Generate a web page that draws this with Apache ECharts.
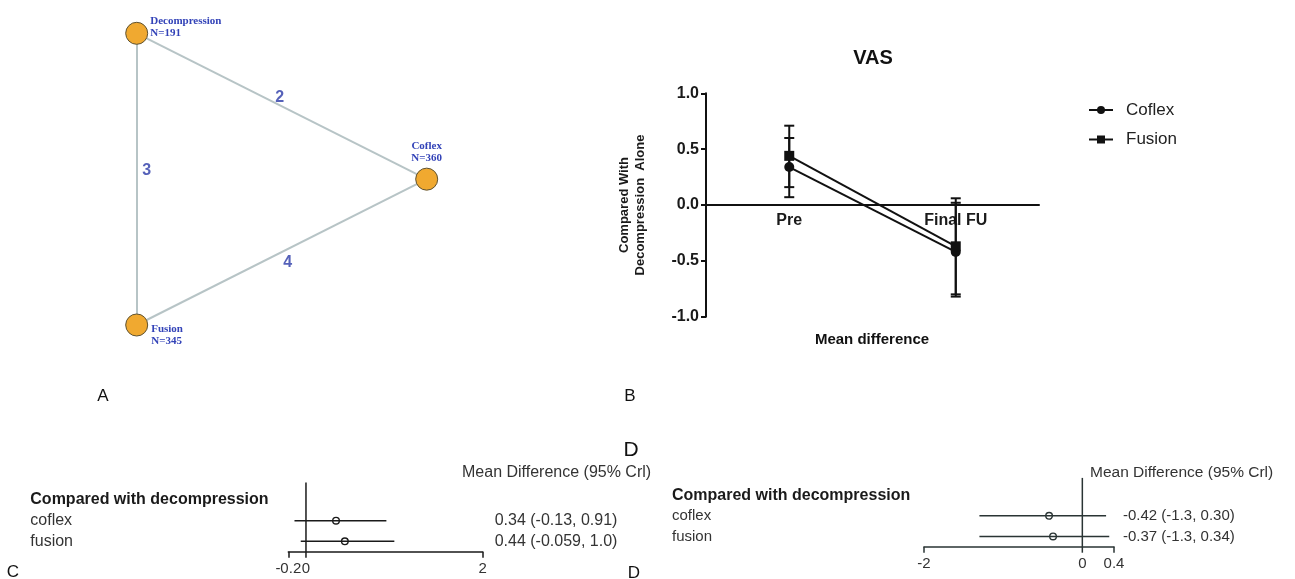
<!DOCTYPE html>
<html>
<head>
<meta charset="utf-8">
<script src="https://cdn.jsdelivr.net/npm/echarts@6/dist/echarts.min.js"></script>
<style>
html,body{margin:0;padding:0;background:#fff;}
#chart{width:1295px;height:579px;}
</style>
</head>
<body>
<div id="chart"></div>
<script>
// ---------- Panel A: network ----------
const nodeNames = ['Decompression', 'Coflex', 'Fusion'];
const nodeN = [191, 360, 345];
const nodeX = [0, 1, 0];
const nodeY = [1, 0.5, 0];
const edgeSource = [0, 0, 2];
const edgeTarget = [1, 2, 1];
const edgeStudies = [2, 3, 4];

// ---------- Panel B: VAS ----------
const timepoints = ['Pre', 'Final FU'];
const coflexMean = [0.34, -0.42];
const coflexLow = [0.07, -0.82];
const coflexHigh = [0.60, 0.02];
const fusionMean = [0.44, -0.37];
const fusionLow = [0.16, -0.80];
const fusionHigh = [0.71, 0.06];
const vasMin = -1;
const vasMax = 1;
const vasStep = 0.5;

// ---------- Panels C / D: forest ----------
const forestHeader = 'Compared with decompression';
const forestRows = ['coflex', 'fusion'];
const preMean = [0.34, 0.44];
const preLow = [-0.13, -0.059];
const preHigh = [0.91, 1.0];
const preText = ['0.34 (-0.13, 0.91)', '0.44 (-0.059, 1.0)'];
const preTicks = [-0.2, 0, 2];
const preBracket = [-0.2, 2];
const postMean = [-0.42, -0.37];
const postLow = [-1.3, -1.3];
const postHigh = [0.30, 0.34];
const postText = ['-0.42 (-1.3, 0.30)', '-0.37 (-1.3, 0.34)'];
const postTicks = [-2, 0, 0.4];
const postBracket = [-2, 0.4];

const SANS = 'Liberation Sans, Arial, sans-serif';
const chart = echarts.init(document.getElementById('chart'), null, {renderer: 'canvas'});

const edgeLabelOffset = [[-2, -9], [10, -9], [6, 11]];
const nodeLabelCfg = [
  {position: 'right', distance: 2, offset: [0, -6], align: 'left'},
  {position: 'top', distance: 3, align: 'center'},
  {position: 'right', distance: 3, offset: [0, 10], align: 'left'}
];

const gridB = {left: 706, top: 93.3, width: 333, height: 223.4};
// place the category axis at value 0 of the VAS scale
const zeroOffset = -gridB.height * (0 - vasMin) / (vasMax - vasMin);

function errorBarRender(params, api) {
  const x = api.value(0);
  const lo = api.coord([x, api.value(1)]);
  const hi = api.coord([x, api.value(2)]);
  const cw = 5;
  const st = {stroke: '#111', lineWidth: 2};
  return {type: 'group', children: [
    {type: 'line', shape: {x1: lo[0], y1: lo[1], x2: hi[0], y2: hi[1]}, style: st},
    {type: 'line', shape: {x1: lo[0] - cw, y1: lo[1], x2: lo[0] + cw, y2: lo[1]}, style: st},
    {type: 'line', shape: {x1: hi[0] - cw, y1: hi[1], x2: hi[0] + cw, y2: hi[1]}, style: st}
  ]};
}

function forestRender(color) {
  return function (params, api) {
    const row = api.value(1);
    const m = api.coord([api.value(0), row]);
    const lo = api.coord([api.value(2), row]);
    const hi = api.coord([api.value(3), row]);
    return {type: 'group', children: [
      {type: 'line', shape: {x1: lo[0], y1: lo[1], x2: hi[0], y2: hi[1]}, style: {stroke: color, lineWidth: 1.5}},
      {type: 'circle', shape: {cx: m[0], cy: m[1], r: 3.3}, style: {stroke: color, fill: 'none', lineWidth: 1.4}}
    ]};
  };
}

function refLineRender(color) {
  return function (params, api) {
    const cs = params.coordSys;
    const p = api.coord([api.value(0), 0]);
    return {type: 'line', shape: {x1: p[0], y1: cs.y - 7, x2: p[0], y2: cs.y + cs.height + 6},
      style: {stroke: color, lineWidth: 1.5}};
  };
}

const forestCats = [forestHeader].concat(forestRows);

function forestYAxes(gridIndex, margin, texts, rowSize, rightMargin, textSize) {
  return [
    {gridIndex: gridIndex, type: 'category', inverse: true, data: forestCats,
      axisLine: {show: false}, axisTick: {show: false}, splitLine: {show: false},
      axisLabel: {interval: 0, align: 'left', margin: margin,
        formatter: (v, i) => i === 0 ? '{h|' + v + '}' : '{r|' + v + '}',
        rich: {
          h: {fontFamily: SANS, fontWeight: 'bold', fontSize: 16, color: '#1a1a1a'},
          r: {fontFamily: SANS, fontSize: rowSize, color: '#333'}
        }}},
    {gridIndex: gridIndex, type: 'category', inverse: true, position: 'right',
      data: [''].concat(texts),
      axisLine: {show: false}, axisTick: {show: false}, splitLine: {show: false},
      axisLabel: {interval: 0, align: 'left', margin: rightMargin, fontFamily: SANS, fontSize: textSize, color: '#333'}}
  ];
}

function forestXAxis(gridIndex, min, max, ticks, bracket, color) {
  return {gridIndex: gridIndex, type: 'value', min: min, max: max,
    splitLine: {show: false},
    axisLine: {show: true, onZero: false, lineStyle: {color: color, width: 1.5}},
    axisTick: {show: true, customValues: bracket, length: 6, lineStyle: {color: color, width: 1.5}},
    axisLabel: {customValues: ticks, margin: 10, fontFamily: SANS, fontSize: 15, color: '#333',
      formatter: v => String(v)}};
}

const titleBase = {padding: 0, textAlign: 'center', textVerticalAlign: 'middle'};
function T(text, x, y, style) {
  return Object.assign({}, titleBase, {text: text, left: x, top: y,
    textStyle: Object.assign({fontFamily: SANS, color: '#111', fontWeight: 'normal', fontSize: 17}, style || {})});
}

const option = {
  backgroundColor: '#ffffff',
  animation: false,
  title: [
    T('VAS', 873, 58, {fontWeight: 'bold', fontSize: 20}),
    T('Mean difference', 872, 340, {fontWeight: 'bold', fontSize: 15}),
    T('A', 103, 396),
    T('B', 630, 396),
    T('D', 631, 450, {fontSize: 21}),
    T('C', 13, 572),
    T('D', 634, 573),
    Object.assign({}, titleBase, {text: 'Mean Difference (95% Crl)', left: 462, top: 473, textAlign: 'left',
      textStyle: {fontFamily: SANS, fontSize: 16, color: '#333', fontWeight: 'normal'}}),
    Object.assign({}, titleBase, {text: 'Mean Difference (95% Crl)', left: 1090, top: 473, textAlign: 'left',
      textStyle: {fontFamily: SANS, fontSize: 15.5, color: '#333', fontWeight: 'normal'}})
  ],
  legend: {
    data: ['Coflex', 'Fusion'], orient: 'vertical', left: 1088, top: 101.5, padding: 0,
    itemWidth: 24, itemHeight: 10, itemGap: 12.5,
    textStyle: {fontFamily: SANS, fontSize: 17, color: '#222', padding: [0, 0, 0, 8]},
    selectedMode: false
  },
  grid: [
    {left: 136.7, top: 33.3, width: 290, height: 291.7},
    gridB,
    {left: 288.3, top: 489.6, width: 194.4, height: 62.1},
    {left: 924, top: 484.9, width: 190, height: 61.8}
  ],
  xAxis: [
    {gridIndex: 0, type: 'value', min: 0, max: 1, show: false},
    {gridIndex: 1, type: 'category', data: timepoints, offset: zeroOffset,
      axisLine: {onZero: false, lineStyle: {color: '#111', width: 2}},
      axisTick: {alignWithLabel: true, length: 5, lineStyle: {color: '#111', width: 2}},
      axisLabel: {margin: 8, fontFamily: SANS, fontWeight: 'bold', fontSize: 16, color: '#1a1a1a'}},
    forestXAxis(2, -0.2, 2, preTicks, preBracket, '#1a1a1a'),
    forestXAxis(3, -2, 0.4, postTicks, postBracket, '#2a3434')
  ],
  yAxis: [
    {gridIndex: 0, type: 'value', min: 0, max: 1, show: false},
    {gridIndex: 1, type: 'value', min: vasMin, max: vasMax, interval: vasStep,
      name: 'Compared With\nDecompression  Alone', nameLocation: 'middle', nameRotate: 90, nameGap: 58,
      nameTextStyle: {fontFamily: SANS, fontWeight: 'bold', fontSize: 13, color: '#1a1a1a', lineHeight: 16, align: 'center'},
      splitLine: {show: false},
      axisLine: {show: true, onZero: false, lineStyle: {color: '#111', width: 2}},
      axisTick: {show: true, length: 5, lineStyle: {color: '#111', width: 2}},
      axisLabel: {margin: 7, fontFamily: SANS, fontWeight: 'bold', fontSize: 16, color: '#1a1a1a',
        formatter: v => v.toFixed(1)}}
  ].concat(forestYAxes(2, 258, preText, 16, 12, 16))
   .concat(forestYAxes(3, 252, postText, 15, 9, 15)),
  series: [
    {
      type: 'graph', coordinateSystem: 'cartesian2d', xAxisIndex: 0, yAxisIndex: 0,
      symbol: 'circle', symbolSize: 22, silent: true,
      itemStyle: {color: '#f0a930', borderColor: '#5e5232', borderWidth: 1},
      lineStyle: {color: '#b7c4c6', width: 2, opacity: 1, curveness: 0},
      label: {show: true, fontFamily: 'Liberation Serif, Times New Roman, serif', fontWeight: 'bold',
        fontSize: 11, lineHeight: 12, color: '#3343b8',
        formatter: p => p.name + '\nN=' + nodeN[p.dataIndex]},
      emphasis: {disabled: true},
      data: nodeNames.map((n, i) => ({name: n, value: [nodeX[i], nodeY[i]], label: nodeLabelCfg[i]})),
      links: edgeSource.map((s, i) => ({source: nodeNames[s], target: nodeNames[edgeTarget[i]]})),
      z: 2
    },
    {
      type: 'scatter', xAxisIndex: 0, yAxisIndex: 0, symbolSize: 0, silent: true, z: 3,
      data: edgeSource.map((s, i) => ({
        value: [(nodeX[s] + nodeX[edgeTarget[i]]) / 2, (nodeY[s] + nodeY[edgeTarget[i]]) / 2, edgeStudies[i]],
        label: {offset: edgeLabelOffset[i]}
      })),
      label: {show: true, position: 'inside', formatter: p => String(p.value[2]),
        fontFamily: SANS, fontWeight: 'bold', fontSize: 16, color: '#2a3aa8'}
    },
    {
      name: 'CoflexErr', type: 'custom', xAxisIndex: 1, yAxisIndex: 1, renderItem: errorBarRender, z: 3,
      data: timepoints.map((t, i) => [i, coflexLow[i], coflexHigh[i]]), silent: true
    },
    {
      name: 'FusionErr', type: 'custom', xAxisIndex: 1, yAxisIndex: 1, renderItem: errorBarRender, z: 3,
      data: timepoints.map((t, i) => [i, fusionLow[i], fusionHigh[i]]), silent: true
    },
    {
      name: 'Coflex', type: 'line', xAxisIndex: 1, yAxisIndex: 1, data: coflexMean,
      symbol: 'circle', symbolSize: 10, z: 4,
      itemStyle: {color: '#111'}, lineStyle: {color: '#111', width: 2}
    },
    {
      name: 'Fusion', type: 'line', xAxisIndex: 1, yAxisIndex: 1, data: fusionMean,
      symbol: 'rect', symbolSize: 10, z: 4,
      itemStyle: {color: '#111'}, lineStyle: {color: '#111', width: 2}
    },
    {
      type: 'custom', xAxisIndex: 2, yAxisIndex: 2, renderItem: refLineRender('#1a1a1a'),
      data: [[0, 0]], silent: true
    },
    {
      type: 'custom', xAxisIndex: 2, yAxisIndex: 2, renderItem: forestRender('#1a1a1a'), silent: true,
      data: forestRows.map((r, i) => [preMean[i], forestCats.indexOf(r), preLow[i], preHigh[i]])
    },
    {
      type: 'custom', xAxisIndex: 3, yAxisIndex: 4, renderItem: refLineRender('#2a3434'),
      data: [[0, 0]], silent: true
    },
    {
      type: 'custom', xAxisIndex: 3, yAxisIndex: 4, renderItem: forestRender('#2a3434'), silent: true,
      data: forestRows.map((r, i) => [postMean[i], forestCats.indexOf(r), postLow[i], postHigh[i]])
    }
  ]
};
chart.setOption(option);
</script>
</body>
</html>
